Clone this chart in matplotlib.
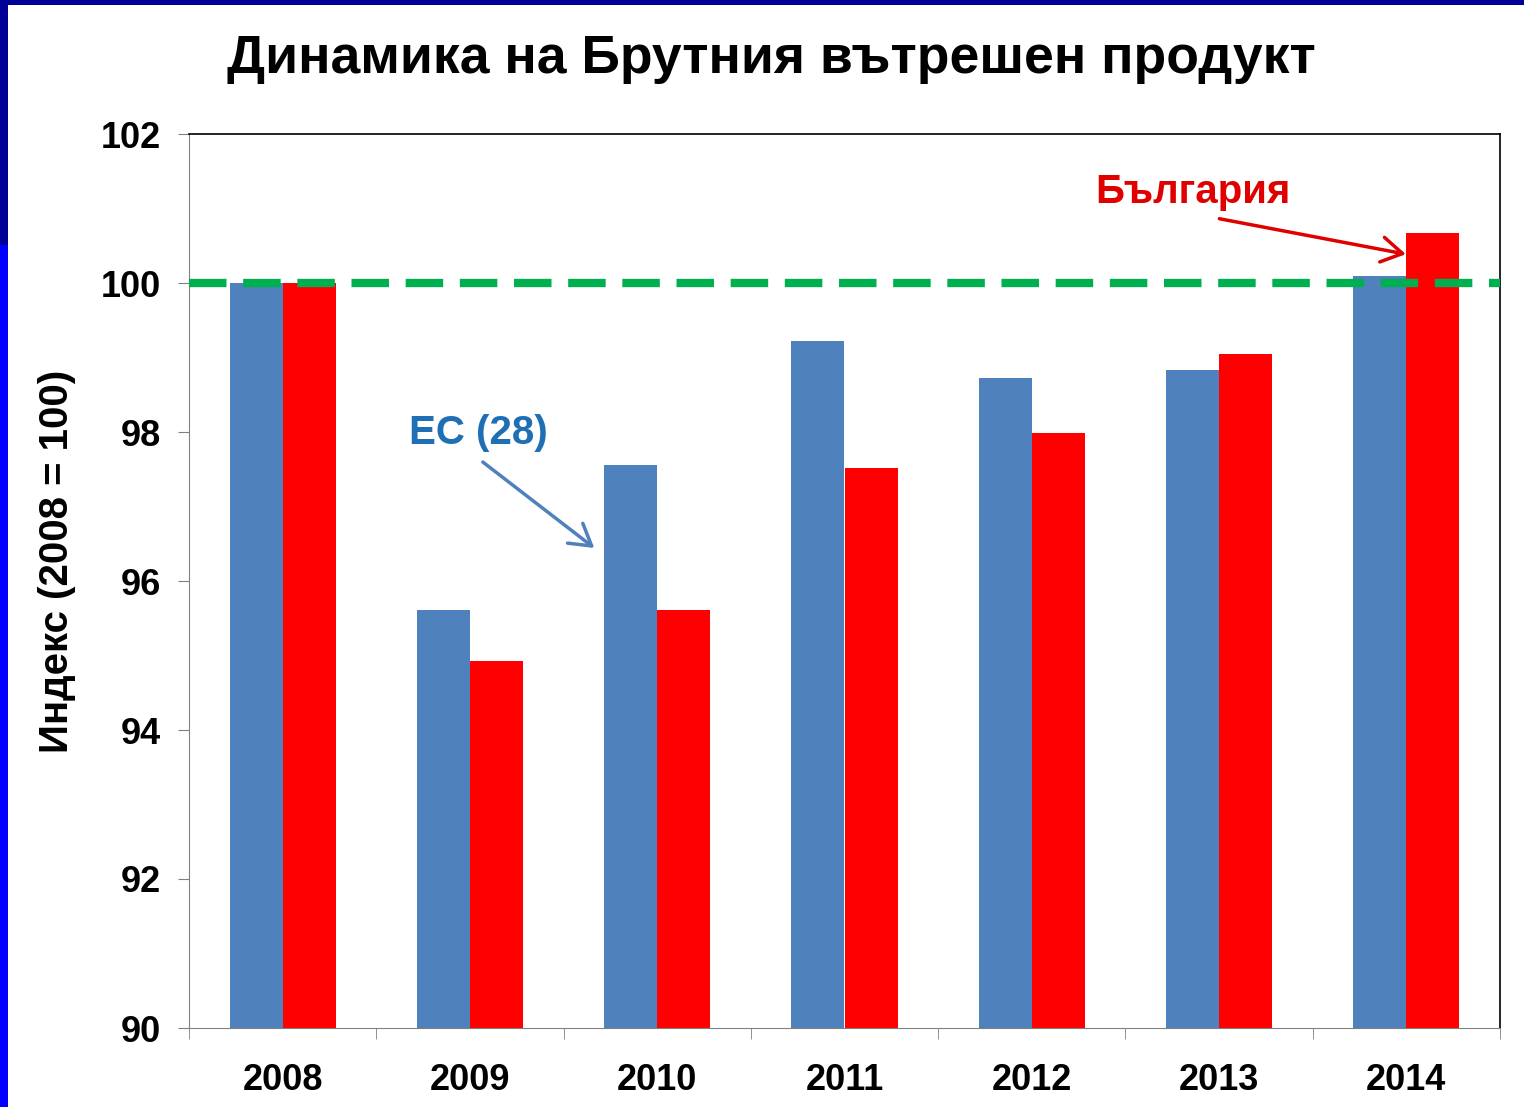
import numpy as np
import matplotlib.pyplot as plt
import matplotlib.patches as patches

years = ['2008', '2009', '2010', '2011', '2012', '2013', '2014']
eu28 = [100.0, 95.61, 97.56, 99.22, 98.72, 98.83, 100.09]
bulgaria = [100.0, 94.93, 95.61, 97.52, 97.99, 99.05, 100.67]
yticks = [90, 92, 94, 96, 98, 100, 102]

plt.rcParams['font.family'] = ['Liberation Sans', 'DejaVu Sans']


def main():
    fig = plt.figure(figsize=(15.24, 11.07), dpi=100)
    fig.patch.set_facecolor('white')

    # slide border strips
    fig.add_artist(patches.Rectangle((0, 1 - 5 / 1107), 1, 5 / 1107, transform=fig.transFigure,
                                     color='#000099', lw=0))
    fig.add_artist(patches.Rectangle((0, 1 - 245 / 1107), 8 / 1524, 245 / 1107, transform=fig.transFigure,
                                     color='#000099', lw=0))
    fig.add_artist(patches.Rectangle((0, 0), 8 / 1524, 1 - 245 / 1107, transform=fig.transFigure,
                                     color='#0000FF', lw=0))

    ax = fig.add_axes([189 / 1524, 1 - 1028 / 1107, (1500 - 189) / 1524, (1028 - 134) / 1107])

    x = np.arange(len(years))
    w = 0.283
    ax.bar(x - w / 2, np.array(eu28) - 90, w, bottom=90, color='#4F81BD', zorder=2)
    ax.bar(x + w / 2, np.array(bulgaria) - 90, w, bottom=90, color='#FF0000', zorder=2)
    ax.axhline(100, color='#00B050', lw=6, dashes=(4.5, 2), zorder=3)

    ax.set_xlim(-0.5, 6.5)
    ax.set_ylim(90, 102)
    ax.set_yticks(yticks)
    ax.set_yticklabels([str(t) for t in yticks], fontsize=26, fontweight='bold')
    ax.set_xticks(x)
    ax.set_xticklabels(years, fontsize=26, fontweight='bold')
    ax.tick_params(axis='x', length=0, pad=25)
    ax.set_xticks(np.arange(-0.5, 7, 1), minor=True)
    ax.tick_params(axis='x', which='minor', length=8, color='#808080', direction='out')
    ax.tick_params(axis='y', length=8, color='#808080', direction='out', pad=12)

    for side in ['left', 'bottom']:
        ax.spines[side].set_color('#808080')
    for side in ['top', 'right']:
        ax.spines[side].set_color('black')
        ax.spines[side].set_linewidth(1.2)

    ax.set_ylabel('Индекс (2008 = 100)', fontsize=29, fontweight='bold', labelpad=18)
    ax.yaxis.label.set_y(0.522)

    fig.text(771 / 1524, 1 - 59 / 1107, 'Динамика на Брутния вътрешен продукт',
             ha='center', va='center', fontsize=38.5, fontweight='bold')

    ax.annotate('', xy=(1.676, 96.42), xytext=(1.057, 97.62),
                arrowprops=dict(arrowstyle='->,head_length=0.5,head_width=0.3', color='#4F81BD',
                                lw=2.5, mutation_scale=30))
    ax.text(1.046, 97.99, 'ЕС (28)', color='#1F6FB5', fontsize=29, fontweight='bold',
            ha='center', va='center')

    ax.annotate('', xy=(6.012, 100.38), xytext=(4.987, 100.87),
                arrowprops=dict(arrowstyle='->,head_length=0.5,head_width=0.3', color='#E00000',
                                lw=2.5, mutation_scale=30))
    ax.text(4.858, 101.22, 'България', color='#E00000', fontsize=29, fontweight='bold',
            ha='center', va='center')

    fig.savefig('out.png', dpi=100)


if __name__ == "__main__":
    main()
